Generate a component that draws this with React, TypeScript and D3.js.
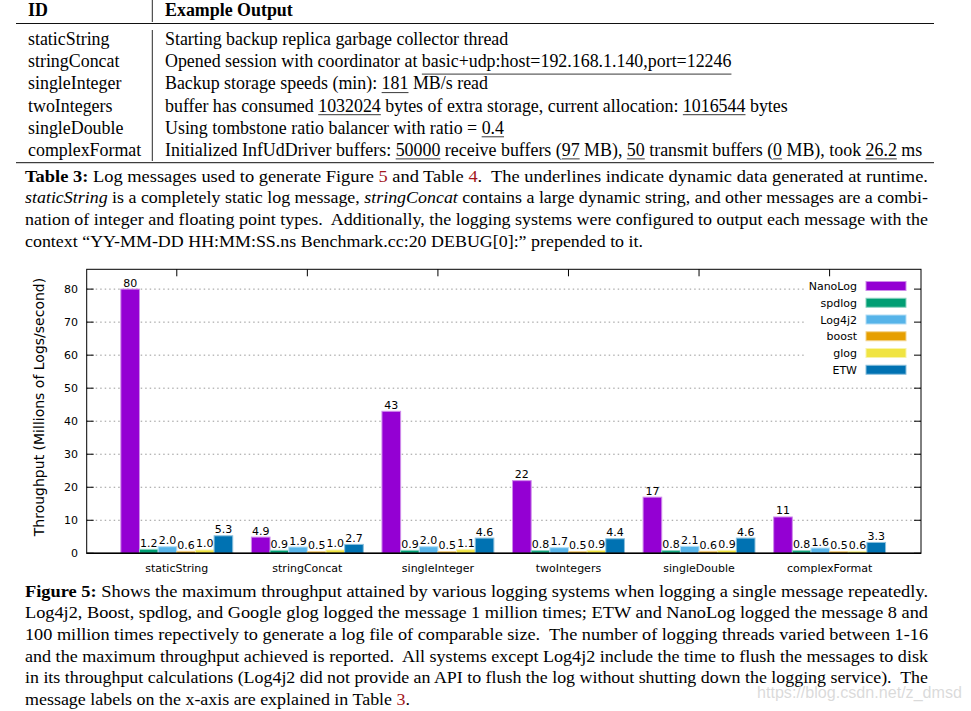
import { useRef, useEffect } from "react"
import * as d3 from "d3"

// chart data
const categories = ["staticString", "stringConcat", "singleInteger", "twoIntegers", "singleDouble", "complexFormat"]
const loggers = ["NanoLog", "spdlog", "Log4j2", "boost", "glog", "ETW"]
const colors = ["#9400d3", "#009e73", "#56b4e9", "#e69f00", "#f0e442", "#0072b2"]
const nanoLog = [80, 4.9, 43, 22, 17, 11]
const spdlog = [1.2, 0.9, 0.9, 0.8, 0.8, 0.8]
const log4j2 = [2.0, 1.9, 2.0, 1.7, 2.1, 1.6]
const boost = [0.6, 0.5, 0.5, 0.5, 0.6, 0.5]
const glog = [1.0, 1.0, 1.1, 0.9, 0.9, 0.6]
const etw = [5.3, 2.7, 4.6, 4.4, 4.6, 3.3]
const yTicks = [0, 10, 20, 30, 40, 50, 60, 70, 80]

// table 3 (|...| = underlined dynamic data)
const exampleOutputs = [
  "Starting backup replica garbage collector thread",
  "Opened session with coordinator at |basic+udp:host=192.168.1.140,port=12246|",
  "Backup storage speeds (min): |181| MB/s read",
  "buffer has consumed |1032024| bytes of extra storage, current allocation: |1016544| bytes",
  "Using tombstone ratio balancer with ratio = |0.4|",
  "Initialized InfUdDriver buffers: |50000| receive buffers (|97| MB), |50| transmit buffers (|0| MB), took |26.2| ms",
]

// captions (**bold**, _italic_, {reference})
const tableCaption = [
  "**Table 3:** Log messages used to generate Figure {5} and Table {4}.  The underlines indicate dynamic data generated at runtime.",
  "_staticString_ is a completely static log message, _stringConcat_ contains a large dynamic string, and other messages are a combi-",
  "nation of integer and floating point types.  Additionally, the logging systems were configured to output each message with the",
  "context \u201cYY-MM-DD HH:MM:SS.ns Benchmark.cc:20 DEBUG[0]:\u201d prepended to it.",
]
const figureCaption = [
  "**Figure 5:** Shows the maximum throughput attained by various logging systems when logging a single message repeatedly.",
  "Log4j2, Boost, spdlog, and Google glog logged the message 1 million times; ETW and NanoLog logged the message 8 and",
  "100 million times repectively to generate a log file of comparable size.  The number of logging threads varied between 1-16",
  "and the maximum throughput achieved is reported.  All systems except Log4j2 include the time to flush the messages to disk",
  "in its throughput calculations (Log4j2 did not provide an API to flush the log without shutting down the logging service).  The",
  "message labels on the x-axis are explained in Table {3}.",
]

const serif = "'Liberation Serif', 'Times New Roman', serif"
const sans = "'DejaVu Sans', Verdana, sans-serif"
const refColor = "#a3161c"

export default function App() {
  const svgRef = useRef<SVGSVGElement>(null)

  function drawCaption(svg: any, lines: string[], top: number, lastWidth: number) {
    lines.forEach((line, li) => {
      const t = svg
        .append("text")
        .attr("x", 25)
        .attr("y", top + li * 21.6)
        .attr("textLength", li === lines.length - 1 ? lastWidth : 903)
        .attr("lengthAdjust", "spacingAndGlyphs")
        .style("font-family", serif)
        .style("font-size", "17px")
        .style("white-space", "pre")
      line
        .split(/(\*\*[^*]+\*\*|_[^_]+_|\{[^}]+\})/)
        .filter((s) => s.length > 0)
        .forEach((seg) => {
          const sp = t.append("tspan")
          if (seg.startsWith("**")) sp.text(seg.slice(2, -2)).style("font-weight", "bold")
          else if (seg.startsWith("_")) sp.text(seg.slice(1, -1)).style("font-style", "italic")
          else if (seg.startsWith("{")) sp.text(seg.slice(1, -1)).attr("fill", refColor)
          else sp.text(seg)
        })
    })
  }

  function drawTable(svg: any) {
    const size = "17.9px"
    const header = svg.append("g").style("font-family", serif).style("font-size", size).style("font-weight", "bold")
    header.append("text").attr("x", 28).attr("y", 16.3).text("ID")
    header.append("text").attr("x", 165).attr("y", 16.3).text("Example Output")

    svg.append("line").attr("x1", 16).attr("x2", 934).attr("y1", 23.5).attr("y2", 23.5).attr("stroke", "#111").attr("stroke-width", 1.2)
    svg.append("line").attr("x1", 16).attr("x2", 934).attr("y1", 162.7).attr("y2", 162.7).attr("stroke", "#111").attr("stroke-width", 1)
    svg.append("line").attr("x1", 152.3).attr("x2", 152.3).attr("y1", 0).attr("y2", 22).attr("stroke", "#111").attr("stroke-width", 0.9)
    svg.append("line").attr("x1", 152.3).attr("x2", 152.3).attr("y1", 30).attr("y2", 161).attr("stroke", "#111").attr("stroke-width", 0.9)

    categories.forEach((id, i) => {
      const base = 45.2 + i * 22.1
      svg.append("text").attr("x", 28).attr("y", base).style("font-family", serif).style("font-size", size).text(id)
      const plain = exampleOutputs[i].replace(/\|/g, "")
      const t = svg
        .append("text")
        .attr("x", 165)
        .attr("y", base)
        .style("font-family", serif)
        .style("font-size", size)
        .style("white-space", "pre")
        .text(plain)
      const node = t.node() as SVGTextElement
      let offset = 0
      exampleOutputs[i].split("|").forEach((seg, k) => {
        if (k % 2 === 1 && seg.length > 0) {
          const x0 = offset > 0 ? node.getSubStringLength(0, offset) : 0
          const w = node.getSubStringLength(offset, seg.length)
          // underline sits below the descenders, like LaTeX \underline
          const drop = /[gjpqy,()]/.test(seg) ? 6.8 : 3.2
          svg
            .append("line")
            .attr("x1", 165 + x0)
            .attr("x2", 165 + x0 + w)
            .attr("y1", base + drop)
            .attr("y2", base + drop)
            .attr("stroke", "#222")
            .attr("stroke-width", 0.9)
        }
        offset += seg.length
      })
    })
  }

  function drawChart(svg: any) {
    const series = [nanoLog, spdlog, log4j2, boost, glog, etw]
    const x = d3.scaleLinear().domain([-0.69, 5.7]).range([86.7, 921])
    const y = d3.scaleLinear().domain([0, 86]).range([553.3, 269.3])
    const bw = 1 / 7
    const fmt = (v: number) => (v >= 10 ? d3.format("d")(v) : d3.format(".1f")(v))
    const edge = (c: string) => d3.interpolateRgb(c, "#ffffff")(0.55)

    const chart = svg.append("g").style("font-family", sans).style("font-size", "11px")

    // grid
    chart
      .selectAll("line.grid")
      .data(yTicks.filter((d) => d > 0))
      .enter()
      .append("line")
      .attr("x1", x(-0.69))
      .attr("x2", x(5.7))
      .attr("y1", (d) => y(d))
      .attr("y2", (d) => y(d))
      .attr("stroke", "#999")
      .attr("stroke-width", 1)
      .attr("stroke-dasharray", "1.5,3")

    // legend background
    chart.append("rect").attr("x", 805).attr("y", 276).attr("width", 115).attr("height", 102).attr("fill", "#fff")

    // bars
    series.forEach((vals, j) => {
      const g = chart.append("g")
      g.selectAll("rect")
        .data(vals)
        .enter()
        .append("rect")
        .attr("x", (d, i) => x(i + (j - 3) * bw))
        .attr("width", x(bw) - x(0))
        .attr("y", (d) => y(d))
        .attr("height", (d) => y(0) - y(d))
        .attr("fill", colors[j])
        .attr("stroke", edge(colors[j]))
        .attr("stroke-width", 1)
      g.selectAll("text")
        .data(vals)
        .enter()
        .append("text")
        .attr("x", (d, i) => x(i + (j - 2.5) * bw))
        .attr("y", (d) => y(d) - 2.5)
        .attr("text-anchor", "middle")
        .text((d) => fmt(d))
    })

    // frame and ticks
    chart
      .append("rect")
      .attr("x", x(-0.69))
      .attr("y", y(86))
      .attr("width", x(5.7) - x(-0.69))
      .attr("height", y(0) - y(86))
      .attr("fill", "none")
      .attr("stroke", "#000")
      .attr("stroke-width", 1)
    chart.append("line").attr("x1", x(-0.69)).attr("x2", x(5.7)).attr("y1", y(0)).attr("y2", y(0)).attr("stroke", "#000").attr("stroke-width", 1.6)

    yTicks.forEach((t) => {
      chart.append("line").attr("x1", x(-0.69)).attr("x2", x(-0.69) + 7).attr("y1", y(t)).attr("y2", y(t)).attr("stroke", "#000")
      chart.append("line").attr("x1", x(5.7) - 7).attr("x2", x(5.7)).attr("y1", y(t)).attr("y2", y(t)).attr("stroke", "#000")
      chart
        .append("text")
        .attr("x", 78)
        .attr("y", y(t) + 4)
        .attr("text-anchor", "end")
        .text(t)
    })
    categories.forEach((c, i) => {
      chart.append("line").attr("x1", x(i)).attr("x2", x(i)).attr("y1", y(86)).attr("y2", y(86) + 7).attr("stroke", "#000")
      chart.append("text").attr("x", x(i)).attr("y", 572).attr("text-anchor", "middle").text(c)
    })

    chart
      .append("text")
      .attr("transform", "translate(44, 407) rotate(-90)")
      .attr("text-anchor", "middle")
      .style("font-size", "14px")
      .text("Throughput (Millions of Logs/second)")

    // legend
    loggers.forEach((name, j) => {
      const cy = 286 + j * 16.75
      chart.append("text").attr("x", 857).attr("y", cy + 4).attr("text-anchor", "end").text(name)
      chart
        .append("rect")
        .attr("x", 866)
        .attr("y", cy - 4.5)
        .attr("width", 40)
        .attr("height", 9)
        .attr("fill", colors[j])
        .attr("stroke", edge(colors[j]))
    })
  }

  useEffect(() => {
    const svg = d3.select(svgRef.current)
    svg.selectAll("*").remove()
    svg.append("rect").attr("width", 971).attr("height", 711).attr("fill", "#fff")
    drawTable(svg)
    drawCaption(svg, tableCaption, 181.7, 618)
    drawChart(svg)
    drawCaption(svg, figureCaption, 596.7, 385)
    svg
      .append("text")
      .attr("x", 757)
      .attr("y", 698)
      .attr("textLength", 205)
      .attr("lengthAdjust", "spacingAndGlyphs")
      .attr("fill", "#d4d4d4")
      .attr("fill-opacity", 0.85)
      .style("font-family", "'Liberation Sans', Arial, sans-serif")
      .style("font-size", "16px")
      .text("https://blog.csdn.net/z_dmsd")
  }, [svgRef])

  return (
    <div style={{ position: "absolute", left: 0, top: 0 }}>
      <svg ref={svgRef} width={971} height={711} style={{ display: "block" }}></svg>
    </div>
  )
}
